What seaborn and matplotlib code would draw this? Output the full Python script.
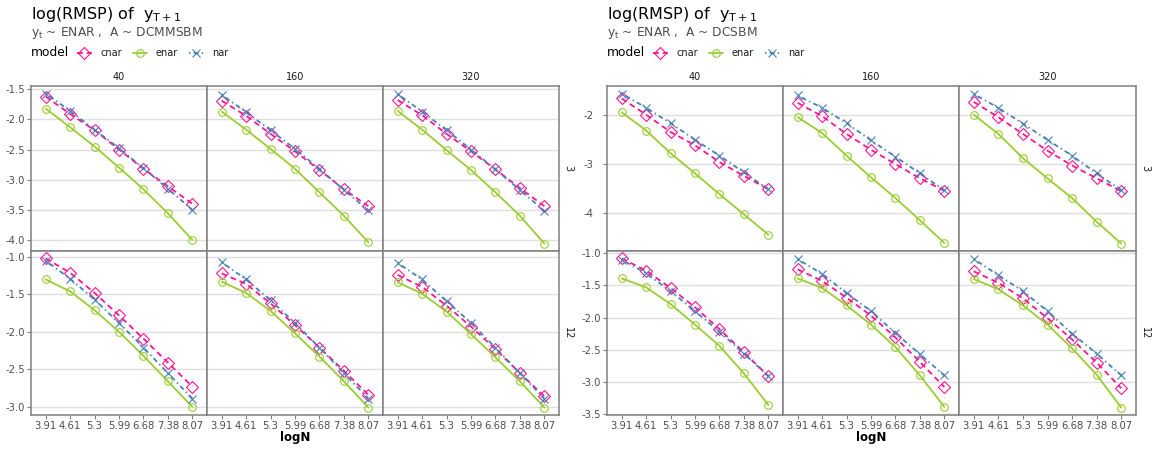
import numpy as np
import pandas as pd
import matplotlib
matplotlib.use("Agg")
import matplotlib.pyplot as plt
import seaborn as sns
from matplotlib.lines import Line2D

sns.set_theme(style="white")
plt.rcParams['font.family'] = ['DejaVu Sans']
plt.rcParams['mathtext.fontset'] = 'dejavusans'
plt.rcParams['axes.unicode_minus'] = False

# ---------------- data ----------------
logN_labels = ["3.91", "4.61", "5.3", "5.99", "6.68", "7.38", "8.07"]
sizes = ["40", "160", "320"]
lags = ["3", "12"]
models = ["cnar", "enar", "nar"]

# A ~ DCMMSBM, lag 3 (columns 40, 160, 320)
dcmm_3_cnar = [[-1.62, -1.91, -2.18, -2.50, -2.82, -3.11, -3.40],
               [-1.69, -1.94, -2.24, -2.53, -2.84, -3.16, -3.44],
               [-1.68, -1.93, -2.24, -2.53, -2.83, -3.14, -3.44]]
dcmm_3_enar = [[-1.82, -2.13, -2.45, -2.80, -3.16, -3.56, -4.00],
               [-1.87, -2.17, -2.49, -2.82, -3.21, -3.60, -4.04],
               [-1.86, -2.17, -2.51, -2.84, -3.21, -3.60, -4.06]]
dcmm_3_nar = [[-1.57, -1.86, -2.17, -2.48, -2.81, -3.15, -3.50],
              [-1.59, -1.88, -2.18, -2.49, -2.82, -3.17, -3.51],
              [-1.58, -1.87, -2.18, -2.50, -2.83, -3.17, -3.52]]
# A ~ DCMMSBM, lag 12
dcmm_12_cnar = [[-1.02, -1.21, -1.48, -1.78, -2.09, -2.41, -2.73],
                [-1.22, -1.36, -1.62, -1.91, -2.21, -2.52, -2.84],
                [-1.24, -1.40, -1.65, -1.93, -2.23, -2.55, -2.86]]
dcmm_12_enar = [[-1.30, -1.46, -1.71, -2.00, -2.32, -2.66, -3.00],
                [-1.33, -1.48, -1.72, -2.02, -2.33, -2.66, -3.01],
                [-1.34, -1.49, -1.73, -2.03, -2.34, -2.66, -3.01]]
dcmm_12_nar = [[-1.05, -1.29, -1.57, -1.88, -2.21, -2.55, -2.89],
               [-1.07, -1.30, -1.58, -1.88, -2.21, -2.55, -2.89],
               [-1.08, -1.30, -1.59, -1.88, -2.21, -2.55, -2.89]]
# A ~ DCSBM, lag 3
dcsbm_3_cnar = [[-1.67, -2.00, -2.35, -2.62, -2.96, -3.24, -3.51],
                [-1.76, -2.03, -2.39, -2.71, -3.00, -3.29, -3.54],
                [-1.74, -2.05, -2.39, -2.73, -3.03, -3.29, -3.55]]
dcsbm_3_enar = [[-1.95, -2.32, -2.78, -3.19, -3.61, -4.02, -4.43],
                [-2.05, -2.37, -2.83, -3.27, -3.69, -4.14, -4.60],
                [-2.00, -2.39, -2.88, -3.29, -3.69, -4.17, -4.61]]
dcsbm_3_nar = [[-1.57, -1.86, -2.17, -2.51, -2.83, -3.17, -3.51],
               [-1.61, -1.86, -2.17, -2.52, -2.85, -3.19, -3.53],
               [-1.58, -1.86, -2.18, -2.51, -2.83, -3.19, -3.53]]
# A ~ DCSBM, lag 12
dcsbm_12_cnar = [[-1.08, -1.27, -1.54, -1.84, -2.18, -2.54, -2.91],
                 [-1.25, -1.43, -1.69, -1.97, -2.31, -2.69, -3.08],
                 [-1.28, -1.46, -1.70, -2.01, -2.34, -2.70, -3.10]]
dcsbm_12_enar = [[-1.39, -1.53, -1.79, -2.11, -2.44, -2.87, -3.36],
                 [-1.39, -1.54, -1.81, -2.11, -2.46, -2.90, -3.39],
                 [-1.40, -1.56, -1.81, -2.11, -2.48, -2.89, -3.40]]
dcsbm_12_nar = [[-1.10, -1.31, -1.59, -1.90, -2.22, -2.56, -2.91],
                [-1.09, -1.32, -1.62, -1.90, -2.24, -2.57, -2.90],
                [-1.09, -1.34, -1.59, -1.90, -2.25, -2.56, -2.90]]

panels = [
    {"sub": "DCMMSBM",
     "rows": {"3": {"cnar": dcmm_3_cnar, "enar": dcmm_3_enar, "nar": dcmm_3_nar},
              "12": {"cnar": dcmm_12_cnar, "enar": dcmm_12_enar, "nar": dcmm_12_nar}},
     "ticks": {"3": [-4.0, -3.5, -3.0, -2.5, -2.0, -1.5], "12": [-3.0, -2.5, -2.0, -1.5, -1.0]},
     "fmt": {"3": "{:.1f}", "12": "{:.1f}"}},
    {"sub": "DCSBM",
     "rows": {"3": {"cnar": dcsbm_3_cnar, "enar": dcsbm_3_enar, "nar": dcsbm_3_nar},
              "12": {"cnar": dcsbm_12_cnar, "enar": dcsbm_12_enar, "nar": dcsbm_12_nar}},
     "ticks": {"3": [-4, -3, -2], "12": [-3.5, -3.0, -2.5, -2.0, -1.5, -1.0]},
     "fmt": {"3": "{:.0f}", "12": "{:.1f}"}},
]

# ---------------- style ----------------
colors = {"cnar": "#FF1493", "enar": "#9ACD32", "nar": "#4682B4"}
lstyles = {"cnar": (0, (3.2, 2.2)), "enar": "-", "nar": (0, (0.8, 1.8, 2.7, 1.8))}
mk = {"cnar": "D", "enar": "o", "nar": "x"}
msz = {"cnar": 6.0, "enar": 5.5, "nar": 6.0}
LW = 1.3

W, H = 1156, 450
fig = plt.figure(figsize=(W / 100, H / 100), dpi=100)

panel_x = [[(31, 207), (207, 383), (383, 559)],
           [(607, 783), (783, 959), (959, 1136)]]
row_y = {"3": (86, 251), "12": (251, 415)}
border_c = "#7f7f7f"
text_c = "#4d4d4d"

x_pos = np.arange(len(logN_labels))

for p, panel in enumerate(panels):
    for lag in lags:
        rowdata = panel["rows"][lag]
        allv = np.concatenate([np.ravel(rowdata[m]) for m in models])
        lo, hi = allv.min(), allv.max()
        pad = 0.05 * (hi - lo)
        ylim = (lo - pad, hi + pad)
        for c, size in enumerate(sizes):
            x0, x1 = panel_x[p][c]
            y0, y1 = row_y[lag]
            ax = fig.add_axes([x0 / W, 1 - y1 / H, (x1 - x0) / W, (y1 - y0) / H])
            for m in models:
                df = pd.DataFrame({"x": x_pos, "y": rowdata[m][c]})
                sns.lineplot(data=df, x="x", y="y", ax=ax, color=colors[m],
                             linestyle=lstyles[m], linewidth=LW, marker=mk[m],
                             markersize=msz[m], markerfacecolor="none",
                             markeredgecolor=colors[m], markeredgewidth=0.8,
                             legend=False, zorder=3)
            ax.set_xlim(-0.6, len(logN_labels) - 1 + 0.6)
            ax.set_ylim(*ylim)
            ax.set_xlabel("")
            ax.set_ylabel("")
            ticks = panel["ticks"][lag]
            ax.set_yticks(ticks)
            for t in ticks:
                ax.axhline(t, color="#dedede", lw=1.0, zorder=1)
            ax.grid(False)
            for s in ax.spines.values():
                s.set_color(border_c)
                s.set_linewidth(1.1)
                s.set_visible(True)
            ax.set_facecolor("white")
            if c == 0:
                ax.set_yticklabels([panel["fmt"][lag].format(t) for t in ticks])
                extra = 7 if (p == 1 and lag == "3") else 1.5
                ax.tick_params(axis="y", left=True, length=3, width=0.8,
                               color=border_c, labelsize=7.2, labelcolor=text_c,
                               pad=extra)
            else:
                ax.tick_params(axis="y", left=False, labelleft=False)
            ax.set_xticks(x_pos)
            if lag == "12":
                ax.set_xticklabels(logN_labels)
                ax.tick_params(axis="x", bottom=True, length=3, width=0.8,
                               color=border_c, labelsize=7.2, labelcolor=text_c,
                               pad=1.5)
            else:
                ax.tick_params(axis="x", bottom=False, labelbottom=False)
            # strip labels
            if lag == "3":
                fig.text((x0 + x1) / 2 / W, 1 - 77 / H, size, ha="center",
                         va="center", fontsize=7, color="#1a1a1a")
            if c == 2:
                fig.text((x1 + 9) / W, 1 - (y0 + y1) / 2 / H, lag, ha="center",
                         va="center", rotation=-90, fontsize=7, color="#1a1a1a")

    left = panel_x[p][0][0]
    right = panel_x[p][2][1]
    # titles
    fig.text(left / W, 1 - 14 / H, r"log(RMSP) of  $\mathrm{y}_{\mathrm{T+1}}$",
             ha="left", va="center", fontsize=11.5, color="black")
    fig.text(left / W, 1 - 33 / H,
             r"$\mathrm{y}_{\mathrm{t}}$ ~ ENAR ,  A ~ " + panel["sub"],
             ha="left", va="center", fontsize=8.8, color=text_c)
    fig.text(left / W, 1 - 53 / H, "model", ha="left", va="center",
             fontsize=8.8, color="black")
    handles = [Line2D([0], [0], color=colors[m], linestyle=lstyles[m], lw=LW,
                      marker=mk[m], markersize=msz[m], markerfacecolor="none",
                      markeredgecolor=colors[m], markeredgewidth=0.8)
               for m in models]
    fig.legend(handles, models, ncol=3, loc="center left",
               bbox_to_anchor=((left + 46) / W, 1 - 53 / H), frameon=False,
               fontsize=7, handlelength=1.5, columnspacing=1.1, numpoints=1,
               handletextpad=0.9, labelcolor="#1a1a1a", borderpad=0,
               borderaxespad=0)
    fig.text((left + right) / 2 / W, 1 - 437 / H, "logN", ha="center",
             va="center", fontsize=8.5, fontweight="bold", color="black")

fig.savefig("out.png", dpi=100, facecolor="white")
